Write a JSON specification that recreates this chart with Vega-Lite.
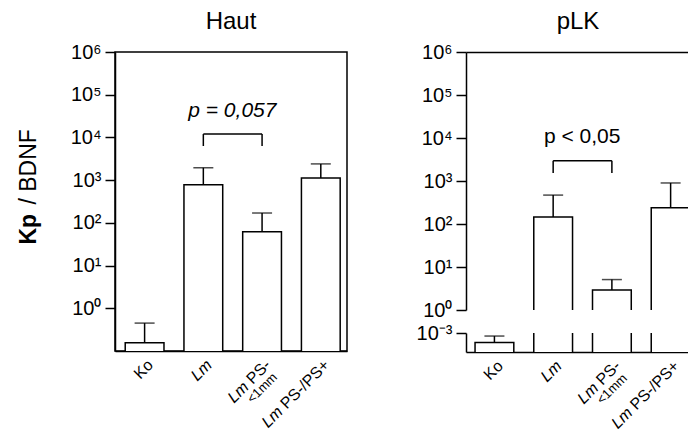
{
  "$schema": "https://vega.github.io/schema/vega-lite/v6.json",
  "padding": {"left": 16, "top": 9, "right": 0, "bottom": 0},
  "autosize": {"type": "pad"},
  "datasets": {
    "haut": [
      {"group": "Ko", "value": 0.155, "upper": 0.45},
      {"group": "Lm", "value": 776, "upper": 1950},
      {"group": "Lm PS- <1mm", "value": 62, "upper": 170},
      {"group": "Lm PS-/PS+", "value": 1120, "upper": 2400}
    ],
    "plk": [
      {"group": "Ko", "value": 0.0006, "upper": 0.00085},
      {"group": "Lm", "value": 145, "upper": 470},
      {"group": "Lm PS- <1mm", "value": 2.9, "upper": 5.1},
      {"group": "Lm PS-/PS+", "value": 240, "upper": 900}
    ],
    "hautSig": [{"from": "Lm", "to": "Lm PS- <1mm", "y": 12000, "low": 6300, "ty": 30000, "label": "p = 0,057"}],
    "plkSig": [{"from": "Lm", "to": "Lm PS- <1mm", "y": 2950, "low": 1540, "ty": 7600, "label": "p < 0,05"}]
  },
  "spacing": 68,
  "hconcat": [
    {
      "width": 232,
      "height": 299,
      "title": {"text": "Haut", "frame": "group", "offset": 8},
      "view": {"stroke": "black", "strokeWidth": 1.5},
      "resolve": {"axis": {"x": "independent", "y": "independent"}},
      "layer": [
        {
          "data": {"name": "haut"},
          "mark": {"type": "bar", "fill": "white", "stroke": "black", "strokeWidth": 1.5, "clip": true},
          "encoding": {
            "x": {"field": "group", "type": "nominal", "sort": null,
              "scale": {"domain": ["Ko", "Lm", "Lm PS- <1mm", "Lm PS-/PS+"], "paddingInner": 0.34, "paddingOuter": 0.145, "align": 0.6},
              "axis": {"orient": "bottom", "title": null, "ticks": false, "domain": true, "grid": false, "labelAngle": -45, "labelAlign": "right", "labelBaseline": "middle", "labelFontSize": 16, "labelPadding": 11, "labelOffset": 6,
                "labelExpr": "datum.value == 'Ko' ? 'Ko' : datum.value == 'Lm PS- <1mm' ? 'PS-' : datum.value == 'Lm PS-/PS+' ? 'PS-/PS+' : ''"}},
            "y": {"field": "value", "type": "quantitative",
              "scale": {"type": "log", "domain": [0.1, 1000000], "nice": false},
              "axis": {"orient": "left", "values": [1, 10, 100, 1000, 10000, 100000, 1000000],
                "labelExpr": "'10' + ['⁰','¹','²','³','⁴','⁵','⁶'][round(log(datum.value)/LN10)]",
                "labelFontSize": 20, "labelPadding": 4, "tickSize": 10, "domain": true, "grid": false,
                "title": "/ BDNF", "titleFontSize": 23, "titleFontWeight": "normal", "titleAngle": 270, "titleAlign": "left", "titleBaseline": "alphabetic", "titleX": -80, "titleY": 152}},
            "y2": {"datum": 0.01}
          }
        },
        {
          "data": {"name": "haut"},
          "mark": {"type": "rule", "strokeWidth": 1.5, "color": "black"},
          "encoding": {
            "x": {"field": "group", "type": "nominal", "sort": null,
              "axis": {"orient": "bottom", "title": null, "ticks": false, "domain": false, "grid": false, "labelAngle": -45, "labelAlign": "right", "labelBaseline": "middle", "labelFontSize": 16, "labelFontStyle": "italic", "labelPadding": 11, "labelOffset": 6,
                "labelExpr": "datum.value == 'Ko' ? '' : 'Lm'",
                "encoding": {"labels": {"dx": {"condition": [{"test": "datum.value == 'Lm PS- <1mm'", "value": -31}, {"test": "datum.value == 'Lm PS-/PS+'", "value": -66}], "value": 0}}}}},
            "y": {"field": "value", "type": "quantitative",
              "axis": {"orient": "left", "labels": false, "ticks": false, "domain": false, "grid": false,
                "title": "Kp", "titleFontSize": 23, "titleFontWeight": "bold", "titleAngle": 270, "titleAlign": "left", "titleBaseline": "alphabetic", "titleX": -80, "titleY": 192}},
            "y2": {"field": "upper"}
          }
        },
        {
          "data": {"name": "haut"},
          "mark": {"type": "tick", "orient": "horizontal", "size": 20, "thickness": 1.5, "color": "black"},
          "encoding": {
            "x": {"field": "group", "type": "nominal", "sort": null,
              "axis": {"orient": "bottom", "title": null, "ticks": false, "domain": false, "grid": false, "labelAngle": -45, "labelAlign": "right", "labelBaseline": "middle", "labelFontSize": 13, "labelPadding": 11, "labelOffset": 6,
                "labelExpr": "datum.value == 'Lm PS- <1mm' ? '<1mm' : ''",
                "encoding": {"labels": {"dx": {"value": -4}, "dy": {"value": 14}}}}},
            "y": {"field": "upper", "type": "quantitative", "axis": null}
          }
        },
        {
          "data": {"name": "hautSig"},
          "mark": {"type": "rule", "strokeWidth": 1.5, "color": "black"},
          "encoding": {
            "x": {"field": "from", "type": "nominal", "axis": null},
            "x2": {"field": "to"},
            "y": {"field": "y", "type": "quantitative", "axis": null}
          }
        },
        {
          "data": {"name": "hautSig"},
          "mark": {"type": "rule", "strokeWidth": 1.5, "color": "black"},
          "encoding": {
            "x": {"field": "from", "type": "nominal", "axis": null},
            "y": {"field": "low", "type": "quantitative", "axis": null},
            "y2": {"field": "y"}
          }
        },
        {
          "data": {"name": "hautSig"},
          "mark": {"type": "rule", "strokeWidth": 1.5, "color": "black"},
          "encoding": {
            "x": {"field": "to", "type": "nominal", "axis": null},
            "y": {"field": "low", "type": "quantitative", "axis": null},
            "y2": {"field": "y"}
          }
        },
        {
          "data": {"name": "hautSig"},
          "mark": {"type": "text", "fontSize": 21, "fontStyle": "italic", "dx": 29, "baseline": "alphabetic", "align": "center", "color": "black"},
          "encoding": {
            "x": {"field": "from", "type": "nominal", "axis": null},
            "y": {"field": "ty", "type": "quantitative", "axis": null},
            "text": {"field": "label"}
          }
        }
      ]
    },
    {
      "bounds": "flush",
      "spacing": 23,
      "vconcat": [
        {
          "width": 224,
          "height": 258,
          "title": {"text": "pLK", "frame": "group", "offset": 8},
          "resolve": {"axis": {"x": "independent", "y": "independent"}},
          "layer": [
            {
              "data": {"name": "plk"},
              "mark": {"type": "bar", "fill": "white", "stroke": "black", "strokeWidth": 1.5, "clip": true},
              "encoding": {
                "x": {"field": "group", "type": "nominal", "sort": null,
                  "scale": {"domain": ["Ko", "Lm", "Lm PS- <1mm", "Lm PS-/PS+"], "paddingInner": 0.34, "paddingOuter": 0.077, "align": 1},
                  "axis": {"orient": "top", "title": null, "ticks": false, "labels": false, "domain": true, "grid": false}},
                "y": {"field": "value", "type": "quantitative",
                  "scale": {"type": "log", "domain": [1, 1000000], "nice": false},
                  "axis": {"orient": "left", "values": [1, 10, 100, 1000, 10000, 100000, 1000000],
                    "labelExpr": "'10' + ['⁰','¹','²','³','⁴','⁵','⁶'][round(log(datum.value)/LN10)]",
                    "labelFontSize": 20, "labelPadding": 4, "tickSize": 10, "domain": true, "grid": false, "title": null}},
                "y2": {"datum": 0.000001}
              }
            },
            {
              "data": {"name": "plk"},
              "mark": {"type": "rule", "strokeWidth": 1.5, "color": "black", "clip": true},
              "encoding": {
                "x": {"field": "group", "type": "nominal", "sort": null, "axis": null},
                "y": {"field": "value", "type": "quantitative", "axis": null},
                "y2": {"field": "upper"}
              }
            },
            {
              "data": {"name": "plk"},
              "mark": {"type": "tick", "orient": "horizontal", "size": 20, "thickness": 1.5, "color": "black", "clip": true},
              "encoding": {
                "x": {"field": "group", "type": "nominal", "sort": null, "axis": null},
                "y": {"field": "upper", "type": "quantitative", "axis": null}
              }
            },
            {
              "data": {"name": "plkSig"},
              "mark": {"type": "rule", "strokeWidth": 1.5, "color": "black"},
              "encoding": {
                "x": {"field": "from", "type": "nominal", "axis": null},
                "x2": {"field": "to"},
                "y": {"field": "y", "type": "quantitative", "axis": null}
              }
            },
            {
              "data": {"name": "plkSig"},
              "mark": {"type": "rule", "strokeWidth": 1.5, "color": "black"},
              "encoding": {
                "x": {"field": "from", "type": "nominal", "axis": null},
                "y": {"field": "low", "type": "quantitative", "axis": null},
                "y2": {"field": "y"}
              }
            },
            {
              "data": {"name": "plkSig"},
              "mark": {"type": "rule", "strokeWidth": 1.5, "color": "black"},
              "encoding": {
                "x": {"field": "to", "type": "nominal", "axis": null},
                "y": {"field": "low", "type": "quantitative", "axis": null},
                "y2": {"field": "y"}
              }
            },
            {
              "data": {"name": "plkSig"},
              "mark": {"type": "text", "fontSize": 21, "dx": 29, "baseline": "alphabetic", "align": "center", "color": "black"},
              "encoding": {
                "x": {"field": "from", "type": "nominal", "axis": null},
                "y": {"field": "ty", "type": "quantitative", "axis": null},
                "text": {"field": "label"}
              }
            }
          ]
        },
        {
          "width": 224,
          "height": 19,
          "resolve": {"axis": {"x": "independent", "y": "independent"}},
          "layer": [
            {
              "data": {"name": "plk"},
              "mark": {"type": "bar", "fill": "white", "stroke": "black", "strokeWidth": 1.5, "clip": true},
              "encoding": {
                "x": {"field": "group", "type": "nominal", "sort": null,
                  "scale": {"domain": ["Ko", "Lm", "Lm PS- <1mm", "Lm PS-/PS+"], "paddingInner": 0.34, "paddingOuter": 0.077, "align": 1},
                  "axis": {"orient": "bottom", "title": null, "ticks": false, "domain": true, "grid": false, "labelAngle": -45, "labelAlign": "right", "labelBaseline": "middle", "labelFontSize": 16, "labelPadding": 11, "labelOffset": 6,
                    "labelExpr": "datum.value == 'Ko' ? 'Ko' : datum.value == 'Lm PS- <1mm' ? 'PS-' : datum.value == 'Lm PS-/PS+' ? 'PS-/PS+' : ''"}},
                "y": {"field": "value", "type": "quantitative",
                  "scale": {"type": "log", "domain": [0.000363, 0.001], "nice": false},
                  "axis": {"orient": "left", "values": [0.001], "labelExpr": "'10⁻³'", "labelFontSize": 20, "labelPadding": 4, "tickSize": 10, "domain": true, "grid": false, "title": null}},
                "y2": {"datum": 0.000001}
              }
            },
            {
              "data": {"name": "plk"},
              "mark": {"type": "rule", "strokeWidth": 1.5, "color": "black", "clip": true},
              "encoding": {
                "x": {"field": "group", "type": "nominal", "sort": null,
                  "axis": {"orient": "bottom", "title": null, "ticks": false, "domain": false, "grid": false, "labelAngle": -45, "labelAlign": "right", "labelBaseline": "middle", "labelFontSize": 16, "labelFontStyle": "italic", "labelPadding": 11, "labelOffset": 6,
                    "labelExpr": "datum.value == 'Ko' ? '' : 'Lm'",
                    "encoding": {"labels": {"dx": {"condition": [{"test": "datum.value == 'Lm PS- <1mm'", "value": -31}, {"test": "datum.value == 'Lm PS-/PS+'", "value": -66}], "value": 0}}}}},
                "y": {"field": "value", "type": "quantitative", "axis": null},
                "y2": {"field": "upper"}
              }
            },
            {
              "data": {"name": "plk"},
              "mark": {"type": "tick", "orient": "horizontal", "size": 20, "thickness": 1.5, "color": "black", "clip": true},
              "encoding": {
                "x": {"field": "group", "type": "nominal", "sort": null,
                  "axis": {"orient": "bottom", "title": null, "ticks": false, "domain": false, "grid": false, "labelAngle": -45, "labelAlign": "right", "labelBaseline": "middle", "labelFontSize": 13, "labelPadding": 11, "labelOffset": 6,
                    "labelExpr": "datum.value == 'Lm PS- <1mm' ? '<1mm' : ''",
                    "encoding": {"labels": {"dx": {"value": -4}, "dy": {"value": 14}}}}},
                "y": {"field": "upper", "type": "quantitative", "axis": null}
              }
            }
          ]
        }
      ]
    }
  ],
  "config": {
    "font": "Liberation Sans",
    "view": {"stroke": null},
    "axis": {"domainColor": "black", "domainWidth": 1.5, "tickColor": "black", "tickWidth": 1.5, "labelColor": "black", "titleColor": "black", "labelFont": "Liberation Sans", "titleFont": "Liberation Sans"},
    "title": {"font": "Liberation Sans", "fontSize": 24, "fontWeight": "normal", "color": "black", "anchor": "middle"},
    "text": {"font": "Liberation Sans"}
  }
}
